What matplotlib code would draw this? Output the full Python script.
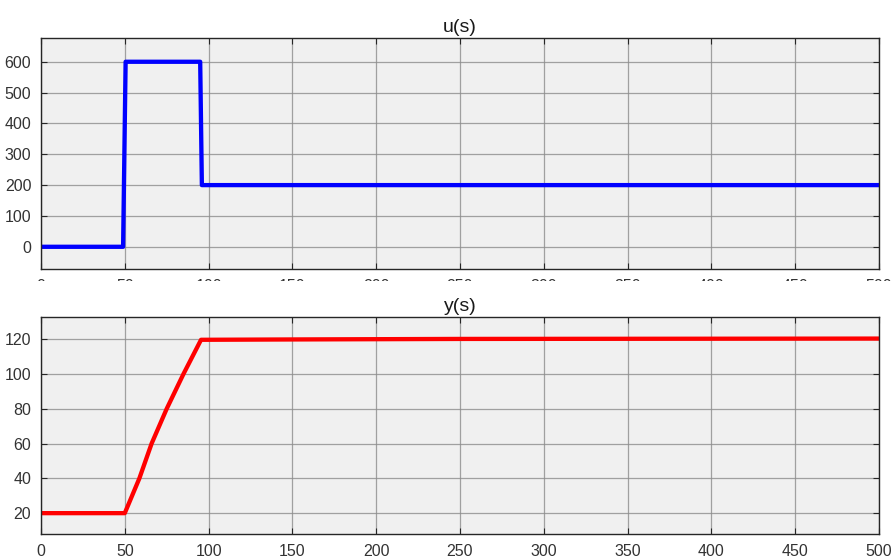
import matplotlib
matplotlib.use("Agg")
import matplotlib.pyplot as plt
from matplotlib.patches import Rectangle

# Data
u_t = [0, 49, 50.5, 95, 96, 500]
u_val = [0, 0, 600, 600, 200, 200]

y_t = [0, 50, 58.7, 66, 75, 85, 95.5, 150, 250, 500]
y_val = [20, 20, 40, 60, 80, 100, 119.7, 119.9, 120.2, 120.4]

x_ticks = [0, 50, 100, 150, 200, 250, 300, 350, 400, 450, 500]
u_ticks = [0, 100, 200, 300, 400, 500, 600]
y_ticks = [20, 40, 60, 80, 100, 120]

plt.rcParams['font.family'] = ['Liberation Sans', 'DejaVu Sans']

fig = plt.figure(figsize=(8.95, 5.59), dpi=100)
ax1 = fig.add_axes([0.0458, 0.5188, 0.9362, 0.4132])
ax2 = fig.add_axes([0.0458, 0.0447, 0.9362, 0.3888])
ax2.set_zorder(2)


def style(ax, title):
    ax.set_facecolor('#f0f0f0')
    ax.grid(True, color='#8c8c8c', linewidth=0.9, alpha=0.8)
    ax.set_axisbelow(True)
    for s in ax.spines.values():
        s.set_color('#262626')
        s.set_linewidth(1.0)
    ax.tick_params(direction='in', top=True, right=True, length=4,
                   width=0.8, color='#262626', labelsize=11.5,
                   labelcolor='#333333', pad=7)
    ax.set_title(title, fontsize=14, color='#1a1a1a', pad=4)


ax1.plot(u_t, u_val, color='#0000ff', linewidth=3.1)
ax1.set_xlim(0, 500)
ax1.set_ylim(-72, 677)
ax1.set_xticks(x_ticks)
ax1.set_yticks(u_ticks)
style(ax1, 'u(s)')

ax2.plot(y_t, y_val, color='#ff0000', linewidth=3.1)
ax2.set_xlim(0, 500)
ax2.set_ylim(8, 133)
ax2.set_xticks(x_ticks)
ax2.set_yticks(y_ticks)
style(ax2, 'y(s)')

# the top axes' x labels are mostly hidden in the reference
fig.patches.append(Rectangle((0, 0.4335), 1, 0.4975 - 0.4335,
                             transform=fig.transFigure, facecolor='white',
                             edgecolor='none', zorder=1))

fig.savefig('out.png', dpi=100)
